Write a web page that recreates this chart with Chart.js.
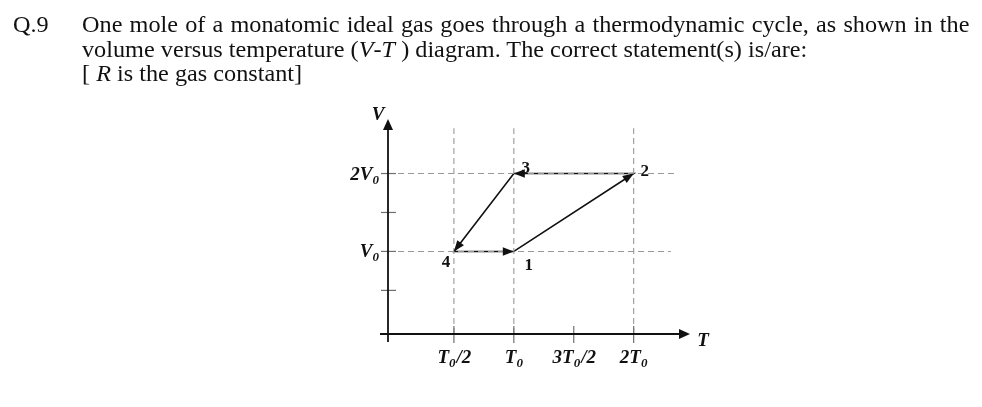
<!DOCTYPE html>
<html>
<head>
<meta charset="utf-8">
<script src="https://cdn.jsdelivr.net/npm/chart.js@4"></script>
<style>
  body { margin: 0; width: 982px; height: 407px; background: #fff; overflow: hidden; }
  #grafico { position: absolute; left: 0; top: 0; }
  .linha { position: absolute; font-family: 'Liberation Serif', 'Times New Roman', serif; font-size: 23px; line-height: 24.5px; color: #111; white-space: nowrap; transform: scaleX(1.054); transform-origin: left top; }
  .just { white-space: normal; width: 842px; text-align: justify; text-align-last: justify; }
</style>
</head>
<body>
<canvas id="grafico" width="982" height="407"></canvas>
<div class="linha" style="left:13px;top:13px">Q.9</div>
<div class="linha just" style="left:82px;top:13px">One mole of a monatomic ideal gas goes through a thermodynamic cycle, as shown in the</div>
<div class="linha" style="left:82px;top:38px">volume versus temperature (<i>V</i>-<i>T</i> ) diagram. The correct statement(s) is/are:</div>
<div class="linha" style="left:82px;top:62px">[ <i>R</i> is the gas constant]</div>

<script>
// estados do ciclo (T em unidades de T0, V em unidades de V0)
const estados = ['1', '2', '3', '4'];
const temperaturas = [1, 2, 1, 0.5];
const volumes = [1, 2, 2, 1];

// ticks dos eixos
const ticksT = [0.5, 1, 1.5, 2];
const rotulosT = [['T', '0', '/2'], ['T', '0', ''], ['3T', '0', '/2'], ['2T', '0', '']];
const ticksV = [0.5, 1, 1.5, 2];
const rotulosV = [null, ['V', '0', ''], null, ['2V', '0', '']];

// linhas tracejadas
const guiasT = [0.5, 1, 2];
const topoGuiasT = 2.58;
const guiasV = [1, 2];
const fimGuiasV = [2.31, 2.34];

// faixa dos eixos
const limitesT = [-0.05, 2.47];
const limitesV = [-0.06, 2.7];

// deslocamento dos numeros dos estados (px)
const offsetsEstados = { '1': [15, 19], '2': [11, 2], '3': [12, -1], '4': [-8, 16] };

const datasets = [];

guiasT.forEach(t => {
  datasets.push({
    data: [{ x: t, y: limitesV[0] }, { x: t, y: topoGuiasT }],
    showLine: true, borderColor: '#999', borderWidth: 1.1, borderDash: [6, 4], pointRadius: 0
  });
});

guiasV.forEach((v, i) => {
  datasets.push({
    data: [{ x: limitesT[0], y: v }, { x: fimGuiasV[i], y: v }],
    showLine: true, borderColor: '#999', borderWidth: 1.1, borderDash: [6, 4], pointRadius: 0
  });
});

const ciclo = temperaturas.map((t, i) => ({ x: t, y: volumes[i] }));
ciclo.push(ciclo[0]);

datasets.push({
  data: ciclo,
  showLine: true, borderColor: '#111', borderWidth: 1.6, pointRadius: 0, tension: 0
});

function seta(ctx, x1, y1, x2, y2, comp, larg) {
  const ang = Math.atan2(y2 - y1, x2 - x1);
  ctx.beginPath();
  ctx.moveTo(x2, y2);
  ctx.lineTo(x2 - comp * Math.cos(ang) + larg * Math.sin(ang), y2 - comp * Math.sin(ang) - larg * Math.cos(ang));
  ctx.lineTo(x2 - comp * Math.cos(ang) - larg * Math.sin(ang), y2 - comp * Math.sin(ang) + larg * Math.cos(ang));
  ctx.closePath();
  ctx.fill();
}

function rotulo(ctx, partes, x, y, align) {
  const fonteP = 'bold italic 19px "Liberation Serif", serif';
  const fonteS = 'bold italic 13px "Liberation Serif", serif';
  ctx.font = fonteP;
  const w1 = ctx.measureText(partes[0]).width;
  const w3 = ctx.measureText(partes[2]).width;
  ctx.font = fonteS;
  const w2 = ctx.measureText(partes[1]).width;
  const total = w1 + w2 + w3;
  let x0 = x;
  if (align === 'center') x0 = x - total / 2;
  if (align === 'right') x0 = x - total;
  ctx.textAlign = 'left';
  ctx.textBaseline = 'alphabetic';
  ctx.font = fonteP;
  ctx.fillText(partes[0], x0, y);
  ctx.font = fonteS;
  ctx.fillText(partes[1], x0 + w1, y + 4);
  ctx.font = fonteP;
  ctx.fillText(partes[2], x0 + w1 + w2 + 1, y);
}

const diagrama = {
  id: 'diagrama',
  afterDatasetsDraw(chart) {
    const ctx = chart.ctx;
    const sx = chart.scales.x;
    const sy = chart.scales.y;
    const area = chart.chartArea;
    const x0 = area.left;
    const y0 = area.bottom;

    ctx.save();

    // ticks
    ctx.strokeStyle = '#6f6f6f';
    ctx.lineWidth = 1.2;
    ticksT.forEach(t => {
      const px = sx.getPixelForValue(t);
      ctx.beginPath();
      ctx.moveTo(px, y0 - 8);
      ctx.lineTo(px, y0 + 9);
      ctx.stroke();
    });
    ticksV.forEach(v => {
      const py = sy.getPixelForValue(v);
      ctx.beginPath();
      ctx.moveTo(x0 - 7, py);
      ctx.lineTo(x0 + 8, py);
      ctx.stroke();
    });

    // eixos
    ctx.strokeStyle = '#111';
    ctx.fillStyle = '#111';
    ctx.lineWidth = 1.8;
    ctx.beginPath();
    ctx.moveTo(x0 - 8, y0);
    ctx.lineTo(area.right - 6, y0);
    ctx.moveTo(x0, y0 + 8);
    ctx.lineTo(x0, area.top + 6);
    ctx.stroke();
    seta(ctx, x0 - 8, y0, area.right, y0, 11, 5);
    seta(ctx, x0, y0 + 8, x0, area.top, 11, 5);

    // setas do ciclo
    const pts = chart.getDatasetMeta(chart.data.datasets.length - 1).data;
    for (let i = 0; i < pts.length - 1; i++) {
      seta(ctx, pts[i].x, pts[i].y, pts[i + 1].x, pts[i + 1].y, 11, 4.2);
    }

    // numeros dos estados
    ctx.font = 'bold 17px "Liberation Serif", serif';
    ctx.textAlign = 'center';
    ctx.textBaseline = 'alphabetic';
    estados.forEach((e, i) => {
      const px = sx.getPixelForValue(temperaturas[i]);
      const py = sy.getPixelForValue(volumes[i]);
      ctx.fillText(e, px + offsetsEstados[e][0], py + offsetsEstados[e][1]);
    });

    // rotulos dos eixos
    ticksT.forEach((t, i) => {
      rotulo(ctx, rotulosT[i], sx.getPixelForValue(t), y0 + 29, 'center');
    });
    ticksV.forEach((v, i) => {
      if (rotulosV[i]) rotulo(ctx, rotulosV[i], x0 - 9, sy.getPixelForValue(v) + 6, 'right');
    });

    ctx.font = 'bold italic 19px "Liberation Serif", serif';
    ctx.textAlign = 'center';
    ctx.fillText('V', x0 - 10, area.top + 1);
    ctx.fillText('T', area.right + 13, y0 + 12);

    ctx.restore();
  }
};

const ctx = document.getElementById('grafico').getContext('2d');

new Chart(ctx, {
  type: 'scatter',
  data: { datasets: datasets },
  options: {
    responsive: false,
    animation: false,
    layout: { padding: { left: 388, right: 292, top: 119, bottom: 73 } },
    scales: {
      x: { type: 'linear', display: false, min: limitesT[0], max: limitesT[1] },
      y: { type: 'linear', display: false, min: limitesV[0], max: limitesV[1] }
    },
    plugins: { legend: { display: false }, tooltip: { enabled: false } },
    elements: { point: { radius: 0 } }
  },
  plugins: [diagrama]
});
</script>
</body>
</html>
